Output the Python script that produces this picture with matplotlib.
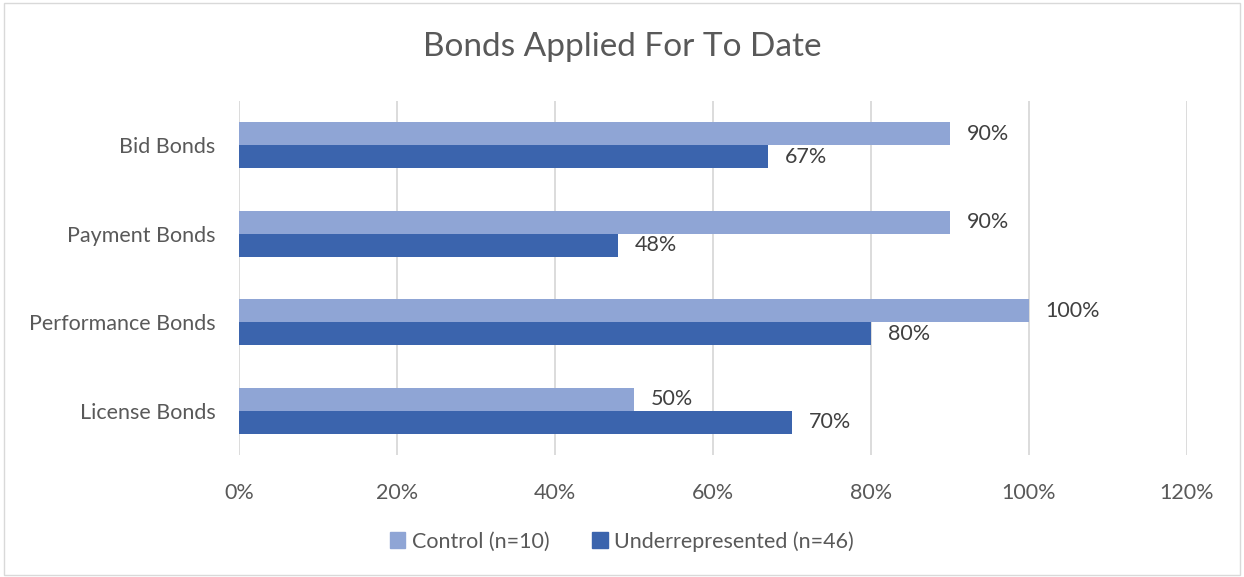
import matplotlib.pyplot as plt
from matplotlib.patches import Rectangle, Patch
import numpy as np

categories = ["Bid Bonds", "Payment Bonds", "Performance Bonds", "License Bonds"]
control = [0.90, 0.90, 1.00, 0.50]
underrep = [0.67, 0.48, 0.80, 0.70]
series_names = ["Control (n=10)", "Underrepresented (n=46)"]
x_ticks = [0, 0.2, 0.4, 0.6, 0.8, 1.0, 1.2]

light = "#8FA5D5"
dark = "#3B64AD"
text_col = "#595959"
grid_col = "#D9D9D9"

plt.rcParams["font.family"] = ["Lato", "DejaVu Sans"]

fig = plt.figure(figsize=(12.44, 5.77), dpi=100)
ax = fig.add_axes([0.1921, 0.2114, 0.762, 0.614])

# border around the whole chart
fig.patches.append(Rectangle((0.003, 0.004), 0.994, 0.99, transform=fig.transFigure,
                             fill=False, edgecolor=grid_col, linewidth=1))

y = np.arange(len(categories))[::-1]
h = 0.26
ax.barh(y + h / 2, control, height=h, color=light, label=series_names[0])
ax.barh(y - h / 2, underrep, height=h, color=dark, label=series_names[1])

for yi, c, u in zip(y, control, underrep):
    ax.annotate(f"{c:.0%}", (c, yi + h / 2), xytext=(12, 0), textcoords="offset points",
                va="center", ha="left", fontsize=15.5, color="#404040")
    ax.annotate(f"{u:.0%}", (u, yi - h / 2), xytext=(12, 0), textcoords="offset points",
                va="center", ha="left", fontsize=15.5, color="#404040")

ax.set_xlim(0, 1.2)
ax.set_ylim(-0.5, 3.5)
ax.set_xticks(x_ticks)
ax.set_xticklabels([f"{t:.0%}" for t in x_ticks])
ax.set_yticks(y)
ax.set_yticklabels(categories)
ax.tick_params(axis="both", length=0, labelsize=15.5, labelcolor=text_col)
ax.tick_params(axis="x", pad=20)
ax.tick_params(axis="y", pad=17)
ax.grid(axis="x", color=grid_col, linewidth=1.3)
ax.set_axisbelow(True)
for s in ax.spines.values():
    s.set_visible(False)

fig.text(0.5, 0.918, "Bonds Applied For To Date", ha="center", va="center",
         fontsize=24, color=text_col)

handles = [Patch(color=light), Patch(color=dark)]
fig.legend(handles, series_names, loc="center", bbox_to_anchor=(0.5, 0.062), ncol=2,
           frameon=False, fontsize=15.5, labelcolor=text_col, handlelength=0.7,
           handleheight=0.7, handletextpad=0.3, columnspacing=2.0)

fig.savefig("out.png", dpi=100)
